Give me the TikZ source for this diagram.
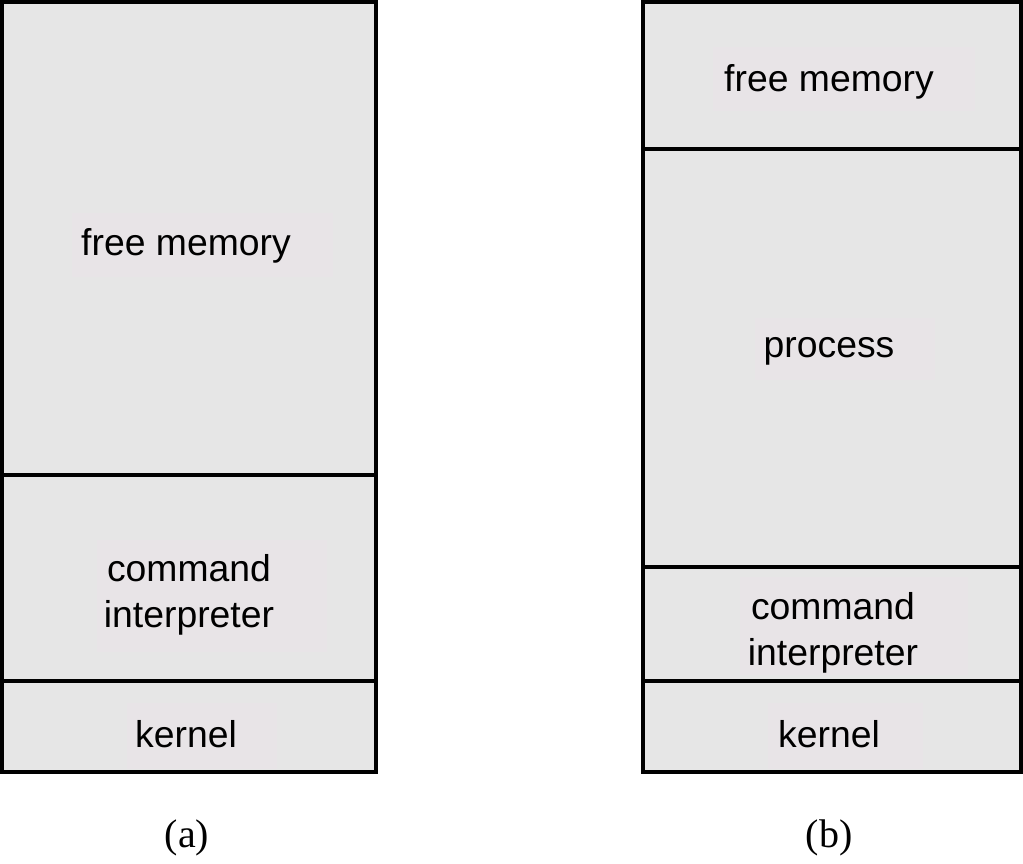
\documentclass[tikz,border=0pt]{standalone}
\usepackage{fontspec}
\setmainfont{Liberation Sans}
\newfontfamily\capfont{Liberation Serif}
\begin{document}
\begin{tikzpicture}[x=0.75pt,y=-0.75pt,
  seg/.style={draw=black, line width=2.5pt, fill=boxgray},
  lbl/.style={font=\fontsize{28}{35}\selectfont, align=center, inner sep=0pt},
  captext/.style={font=\capfont\fontsize{30}{34}\selectfont, inner sep=0pt}]
\definecolor{boxgray}{HTML}{E6E6E6}
\definecolor{labelbg}{HTML}{E8E4E7}
\useasboundingbox (0,0) rectangle (1023,863);
% left column (a)
\path[seg] (2,2) rectangle (376,475);
\path[seg] (2,475) rectangle (376,681);
\path[seg] (2,681) rectangle (376,772);
% label backgrounds (a)
\fill[labelbg] (72,213) rectangle (333,277);
\fill[labelbg] (97,540) rectangle (327,652);
\fill[labelbg] (127,703) rectangle (277,769);
% right column (b)
\path[seg] (643,2) rectangle (1021,149);
\path[seg] (643,149) rectangle (1021,567);
\path[seg] (643,567) rectangle (1021,681);
\path[seg] (643,681) rectangle (1021,772);
\fill[labelbg] (713,47) rectangle (975,111);
\fill[labelbg] (755,318) rectangle (935,380);
\fill[labelbg] (740,577) rectangle (968,675);
\fill[labelbg] (768,703) rectangle (923,769);
% texts
\node[lbl] (tAFree) at (186,246) {free memory};
\node[lbl] (tACmd) at (189,595) {command\\interpreter};
\node[lbl] (tAKer) at (186,734) {kernel};
\node[lbl] (tBFree) at (829,82) {free memory};
\node[lbl] (tBProc) at (829,351) {process};
\node[lbl] (tBCmd) at (833,633) {command\\interpreter};
\node[lbl] (tBKer) at (829,734) {kernel};
\node[captext] (capA) at (187,838) {(a)};
\node[captext] (capB) at (829,838) {(b)};
\end{tikzpicture}
\end{document}
